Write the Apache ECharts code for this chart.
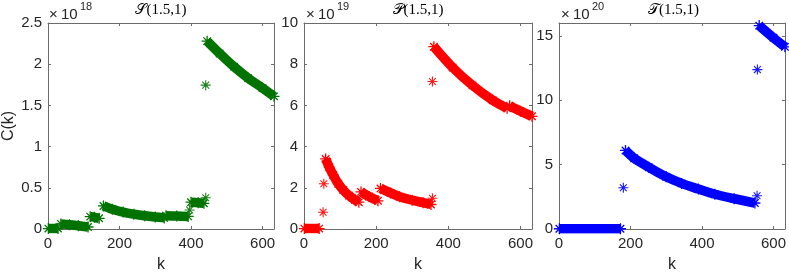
<!DOCTYPE html>
<html>
<head>
<meta charset="utf-8">
<script src="https://cdn.jsdelivr.net/npm/echarts@6/dist/echarts.min.js"></script>
<style>
html,body{margin:0;padding:0;background:#fff;}
#c{width:789px;height:278px;}
</style>
</head>
<body>
<div id="c"></div>
<script>
// ---- data (values in units of the axis multiplier) ----
// null separates contiguous segments
// S(1.5,1)  (x 1e18)
const sK = [1, 28, null, 36, 60, 85, 112, null, 118, 130, 143, null, 155, 180, 210, 240, 270, 300, 325, null, 330, 360, 392, null, 400, 420, 436, null, 445, 480, 520, 560, 600, 632];
const sV = [0.005, 0.005, null, 0.062, 0.052, 0.04, 0.024, null, 0.15, 0.142, 0.13, null, 0.28, 0.24, 0.205, 0.18, 0.16, 0.145, 0.135, null, 0.16, 0.157, 0.153, null, 0.325, 0.318, 0.312, null, 2.28, 2.13, 1.97, 1.83, 1.71, 1.61];
const sOutK = [396, 441, 441];
const sOutV = [0.23, 0.38, 1.746];

// P(1.5,1)  (x 1e19)
const pK = [1, 42, null, 60, 70, 81, 95, 109, 125, 141, 152, null, 158, 180, 205, null, 212, 240, 265, 300, 330, 352, null, 360, 412, 467, 523, 563, null, 570, 600, 632];
const pV = [0.02, 0.02, null, 3.4, 3.0, 2.62, 2.2, 1.89, 1.62, 1.42, 1.3, null, 1.8, 1.58, 1.37, null, 1.97, 1.75, 1.57, 1.4, 1.28, 1.19, null, 8.85, 7.84, 6.97, 6.25, 5.86, null, 5.98, 5.72, 5.47];
const pOutK = [53, 55, 356, 356];
const pOutV = [0.81, 2.2, 1.49, 7.16];

// T(1.5,1)  (x 1e20)
const tK = [1, 172, null, 186, 210, 251, 300, 343, 390, 436, 490, 548, null, 560, 600, 632];
const tV = [0.02, 0.02, null, 6.1, 5.5, 4.8, 4.05, 3.54, 3.1, 2.7, 2.35, 2.02, null, 15.8, 14.85, 14.15];
const tOutK = [180, 554, 555];
const tOutV = [3.2, 2.58, 12.38];

const xTicks = [0, 200, 400, 600];
const xMax = 632;
const yMaxes = [2.5, 10, 16];
const yIntervals = [0.5, 2, 5];
const exps = ['18', '19', '20'];
const titleLetters = ['\u{1D4AE}', '\u{1D4AB}', '\u{1D4AF}'];
const titleArgs = '(1.5,1)';
const colors = ['#007300', '#ff0000', '#0000ff'];

// ---- layout ----
const grids = [
  {left: 47, top: 23, width: 227, height: 210},
  {left: 304, top: 23, width: 228, height: 210},
  {left: 559, top: 23, width: 229, height: 210}
];
const axisCol = '#6b6b6b';
const txtCol = '#262626';
const FONT = 'Liberation Sans, Arial, Helvetica, sans-serif';
const STAR = 'path://M5,0L5,10M0,5L10,5M1.6,1.6L8.4,8.4M1.6,8.4L8.4,1.6';

function split(ks, vs) {
  const out = []; let cur = [];
  for (let i = 0; i < ks.length; i++) {
    if (ks[i] === null) { if (cur.length) out.push(cur); cur = []; }
    else cur.push([ks[i], vs[i]]);
  }
  if (cur.length) out.push(cur);
  return out;
}

const xAxis = [], yAxis = [], series = [], title = [];
const sets = [[sK, sV, sOutK, sOutV], [pK, pV, pOutK, pOutV], [tK, tV, tOutK, tOutV]];

grids.forEach((g, i) => {
  const common = {
    gridIndex: i, type: 'value', min: 0,
    axisLine: {show: true, onZero: false, lineStyle: {color: axisCol, width: 1}},
    axisTick: {show: true, inside: true, length: 3, lineStyle: {color: axisCol, width: 1}},
    splitLine: {show: false}
  };
  xAxis.push(Object.assign({}, common, {
    position: 'bottom', max: xMax, interval: 200,
    axisLabel: {show: true, showMaxLabel: false, color: txtCol, fontSize: 15, fontFamily: FONT, margin: 7},
    name: 'k', nameLocation: 'middle', nameGap: 28,
    nameTextStyle: {color: txtCol, fontSize: 16, fontFamily: FONT}
  }));
  xAxis.push(Object.assign({}, common, {
    position: 'top', max: xMax, interval: 200, axisLabel: {show: false}
  }));
  const yl = Object.assign({}, common, {
    position: 'left', max: yMaxes[i], interval: yIntervals[i],
    axisLabel: {show: true, showMaxLabel: i === 2 ? false : true, color: txtCol, fontSize: 15, fontFamily: FONT, margin: 6}
  });
  if (i === 0) {
    yl.name = 'C(k)'; yl.nameLocation = 'middle'; yl.nameGap = 31; yl.nameRotate = 90;
    yl.nameTextStyle = {color: txtCol, fontSize: 16, fontFamily: FONT};
  }
  yAxis.push(yl);
  yAxis.push(Object.assign({}, common, {
    position: 'right', max: yMaxes[i], interval: yIntervals[i], axisLabel: {show: false}
  }));

  const [ks, vs, ok, ov] = sets[i];
  split(ks, vs).forEach(seg => {
    series.push({
      type: 'line', xAxisIndex: 2 * i, yAxisIndex: 2 * i, data: seg,
      smooth: 0.35, showSymbol: true, symbol: STAR, symbolSize: 11,
      lineStyle: {color: colors[i], width: 9.5, cap: 'butt'},
      itemStyle: {color: colors[i], borderColor: colors[i], borderWidth: 1.3},
      emphasis: {disabled: true}, animation: false, clip: true, z: 3
    });
  });
  series.push({
    type: 'scatter', xAxisIndex: 2 * i, yAxisIndex: 2 * i,
    data: ok.map((k, j) => [k, ov[j]]),
    symbol: STAR, symbolSize: 10,
    itemStyle: {color: colors[i], borderColor: colors[i], borderWidth: 1.1, opacity: 0.9},
    animation: false, z: 4
  });

  const cx = g.left + g.width / 2;
  title.push({
    text: '{s|' + titleLetters[i] + '}{n|' + titleArgs + '}',
    left: cx, top: 3, textAlign: 'center', padding: 0,
    textStyle: {fontWeight: 'normal', rich: {
      s: {fontFamily: 'DejaVu Serif, Noto Sans, DejaVu Sans, serif', fontSize: 15, fontWeight: 'normal', color: '#000'},
      n: {fontFamily: 'Liberation Serif, DejaVu Serif, serif', fontSize: 15, fontWeight: 'normal', color: '#000'}
    }}
  });
  title.push({
    text: '\u00d7', left: g.left + 2, top: 7, padding: 0,
    textStyle: {fontFamily: FONT, fontSize: 15, fontWeight: 'normal', color: txtCol}
  });
  title.push({
    text: '10', left: g.left + 14, top: 7, padding: 0,
    textStyle: {fontFamily: FONT, fontSize: 15, fontWeight: 'normal', color: txtCol}
  });
  title.push({
    text: exps[i], left: g.left + 33, top: 1, padding: 0,
    textStyle: {fontFamily: FONT, fontSize: 11, fontWeight: 'normal', color: txtCol}
  });
});

const chart = echarts.init(document.getElementById('c'), null, {renderer: 'canvas'});
chart.setOption({
  animation: false,
  backgroundColor: '#ffffff',
  grid: grids.map(g => Object.assign({containLabel: false}, g)),
  title, xAxis, yAxis, series
});
</script>
</body>
</html>
